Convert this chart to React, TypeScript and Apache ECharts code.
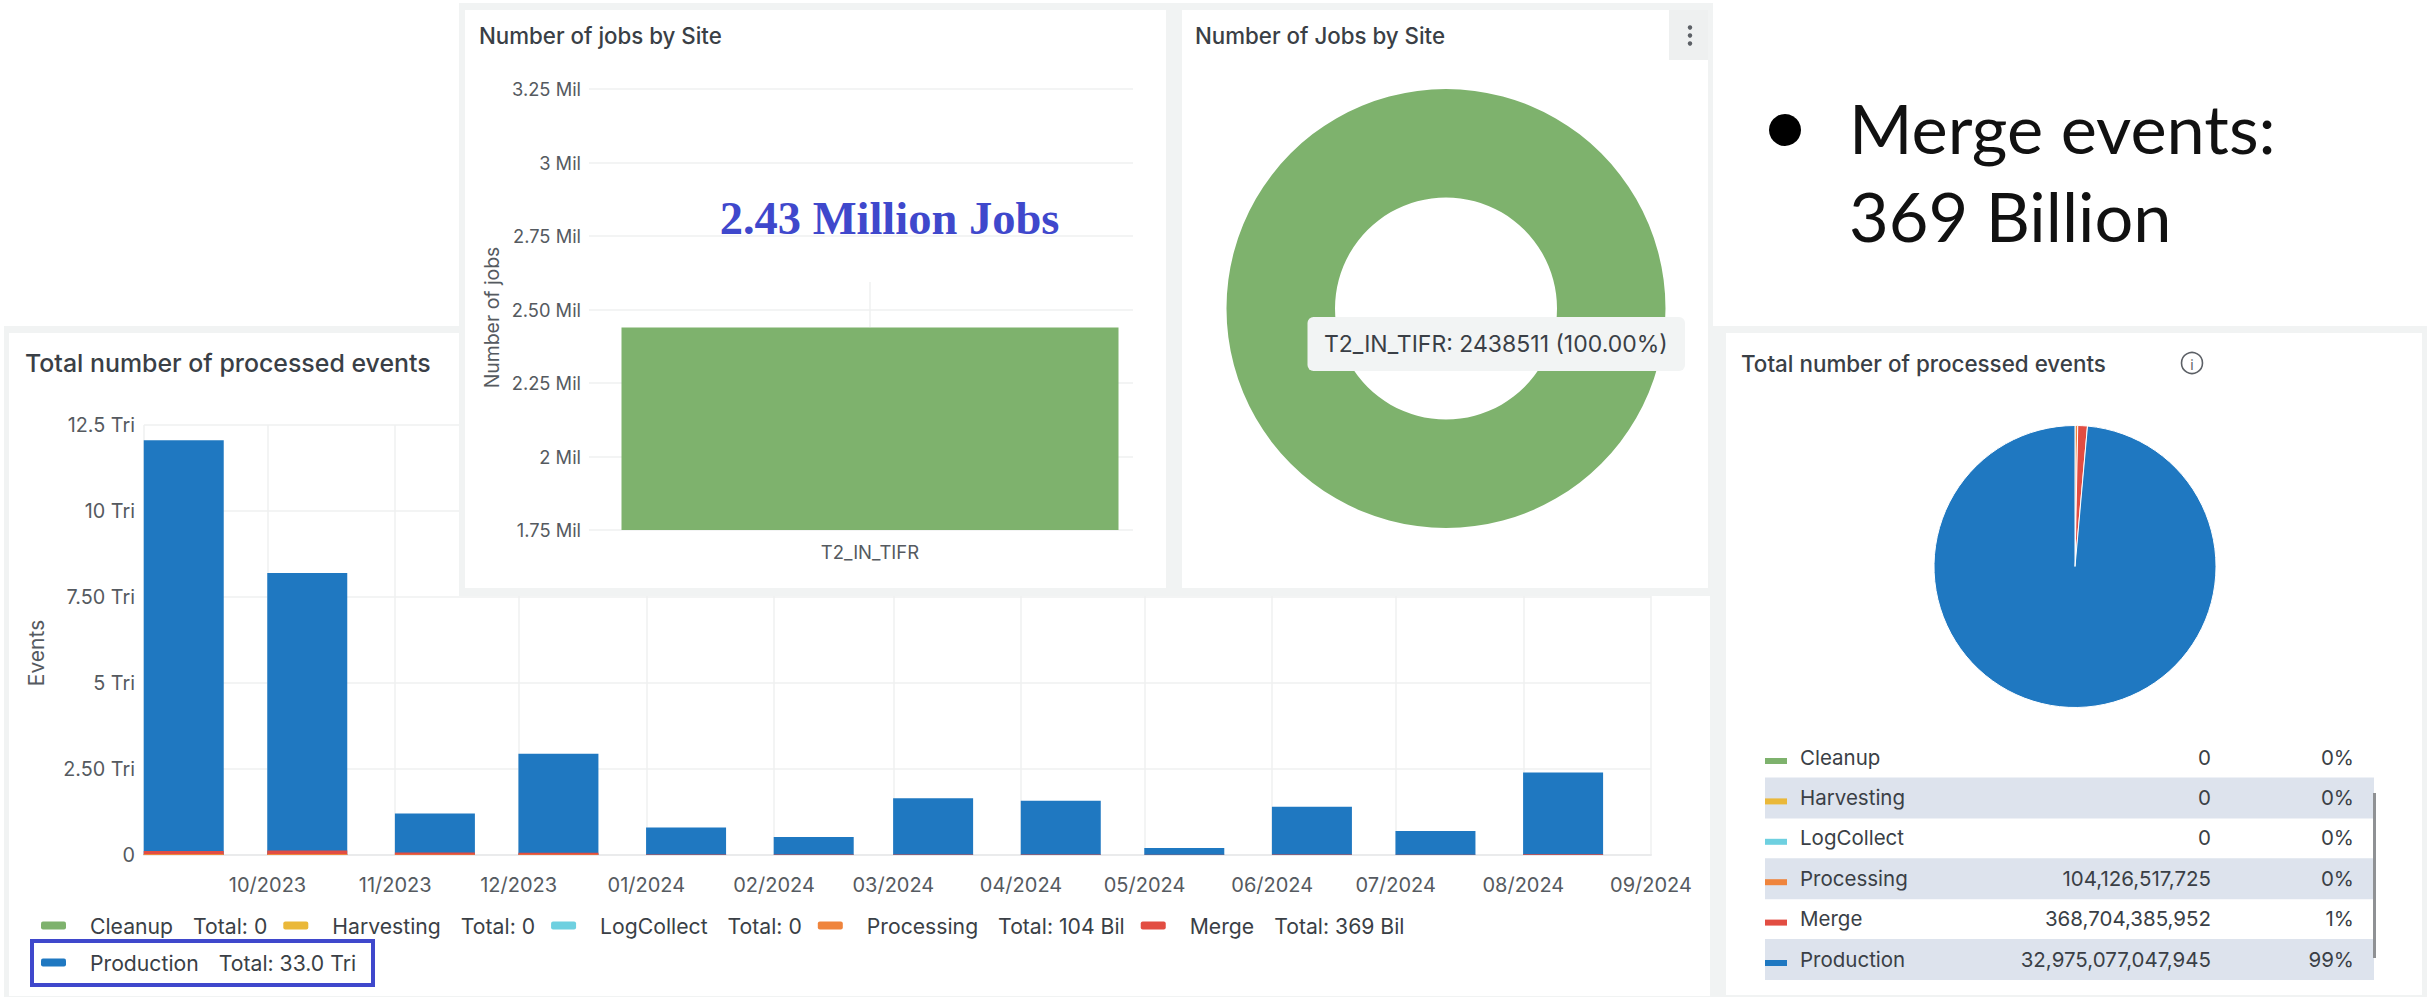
import React, { useEffect, useRef } from "react";
import * as echarts from "echarts";

// Monthly processed events, in trillions.
const monthStarts = [
  "2023-09-01", "2023-10-01", "2023-11-01", "2023-12-01", "2024-01-01", "2024-02-01",
  "2024-03-01", "2024-04-01", "2024-05-01", "2024-06-01", "2024-07-01", "2024-08-01",
];
const axisEndDate = "2024-09-01";
const cleanupEvents = [0, 0, 0, 0, 0, 0, 0, 0, 0, 0, 0, 0];
const harvestingEvents = [0, 0, 0, 0, 0, 0, 0, 0, 0, 0, 0, 0];
const logCollectEvents = [0, 0, 0, 0, 0, 0, 0, 0, 0, 0, 0, 0];
const processingEvents = [0.03, 0.03, 0.015, 0.012, 0.003, 0.002, 0.003, 0.002, 0.001, 0.002, 0.001, 0.003];
const mergeEvents = [0.085, 0.1, 0.06, 0.05, 0.015, 0.01, 0.012, 0.012, 0.003, 0.01, 0.006, 0.016];
const productionEvents = [11.945, 8.07, 1.135, 2.878, 0.782, 0.508, 1.635, 1.566, 0.196, 1.388, 0.693, 2.381];

const seriesNames = ["Cleanup", "Harvesting", "LogCollect", "Processing", "Merge", "Production"];
const seriesColors = ["#7EB26D", "#EAB839", "#6ED0E0", "#EF843C", "#E24D42", "#1F78C1"];
const legendTotals = ["0", "0", "0", "104 Bil", "369 Bil", "33.0 Tri"];
const tableValues = [0, 0, 0, 104126517725, 368704385952, 32975077047945];
const tableValueLabels = ["0", "0", "0", "104,126,517,725", "368,704,385,952", "32,975,077,047,945"];
const tablePercents = ["0%", "0%", "0%", "0%", "1%", "99%"];

const eventTickLabels = ["0", "2.50 Tri", "5 Tri", "7.50 Tri", "10 Tri", "12.5 Tri"];

// Jobs per site, in millions.
const siteNames = ["T2_IN_TIFR"];
const siteJobs = [2.438511];
const jobTickLabels = ["1.75 Mil", "2 Mil", "2.25 Mil", "2.50 Mil", "2.75 Mil", "3 Mil", "3.25 Mil"];
const siteJobCounts = [2438511];

const FONT = "Inter";
const INK = "#3a3f46";
const AXIS_INK = "#555a60";
const GRID_LINE = "#eff0f1";
const DAY_MS = 86400000;
const BAR_CENTRE_DAYS = 9.65;

const toMs = (day: string) => Date.parse(`${day}T00:00:00Z`);
const monthTicks = [...monthStarts, axisEndDate].map(toMs);

const text = (
  x: number, y: number, value: string, fontSize: number, fill: string, z: number,
  extra: Record<string, unknown> = {},
) => ({
  type: "text", x, y, z, silent: true,
  style: { text: value, fontSize, fontFamily: FONT, fill, textVerticalAlign: "middle", ...extra },
});
const box = (x: number, y: number, width: number, height: number, fill: string, z: number, r = 0) => ({
  type: "rect", z, silent: true, shape: { x, y, width, height, r }, style: { fill },
});

function buildOption() {
  const backdrop = "#f1f3f3";
  const tableRows = seriesNames.flatMap((name, i) => {
    const rowY = 757 + i * 40.4;
    const shaded = i % 2 === 1 ? [box(1765, rowY - 20, 609, 41, "#dde3ed", 1)] : [];
    return [
      ...shaded,
      box(1765, rowY + 1, 22, 6, seriesColors[i], 2),
      text(1800, rowY, name, 20.5, INK, 2),
      text(2211, rowY, tableValueLabels[i], 20.5, INK, 2, { textAlign: "right" }),
      text(2354, rowY, tablePercents[i], 20.5, INK, 2, { textAlign: "right" }),
    ];
  });

  const graphicElements = [
    // Lower dashboard row
    box(4, 326, 2423, 671, backdrop, -3),
    box(9, 333, 1701, 663, "#ffffff", -2),
    box(1726, 333, 696, 662, "#ffffff", -2),
    text(25, 363, "Total number of processed events", 24.9, INK, 2, { fontWeight: 500 }),
    text(1741, 363, "Total number of processed events", 22.4, INK, 2, { fontWeight: 500 }),
    { type: "circle", z: 2, silent: true, shape: { cx: 2192, cy: 363, r: 10.5 }, style: { fill: "none", stroke: "#5c6066", lineWidth: 1.6 } },
    text(2192, 364, "i", 14, "#5c6066", 2, { textAlign: "center" }),
    ...tableRows,
    box(2373, 793, 3, 165, "#8f9194", 3),
    // Highlight around the production total
    { type: "rect", z: 5, silent: true, shape: { x: 32, y: 941, width: 341, height: 44 }, style: { fill: "none", stroke: "#3f48cc", lineWidth: 4 } },

    // Upper dashboard row
    box(459, 3, 1254, 593, backdrop, 20),
    box(465, 10, 701, 578, "#ffffff", 20.5),
    box(1182, 10, 526, 578, "#ffffff", 20.5),
    text(479, 35, "Number of jobs by Site", 22.3, INK, 24, { fontWeight: 500 }),
    text(1195, 35, "Number of Jobs by Site", 22.3, INK, 24, { fontWeight: 500 }),
    box(1669, 10, 39, 50, "#eef0f0", 24),
    ...[27.5, 35.5, 43.5].map((cy) => ({
      type: "circle", z: 25, silent: true, shape: { cx: 1690, cy, r: 2.2 }, style: { fill: "#5c6066" },
    })),
    { type: "line", z: 21, silent: true, shape: { x1: 870, y1: 282, x2: 870, y2: 327 }, style: { stroke: GRID_LINE, lineWidth: 1.5 } },
    text(889.5, 218, "2.43 Million Jobs", 46.5, "#3f48cc", 30, {
      fontFamily: "Liberation Serif", fontWeight: "bold", textAlign: "center",
    }),
    box(1307.5, 317, 377.5, 54, "#f2f4f4", 30, 6),
    text(1324, 344, `${siteNames[0]}: ${siteJobCounts[0]} (100.00%)`, 23, INK, 31),

    // Slide bullet
    { type: "circle", z: 2, silent: true, shape: { cx: 1785, cy: 130, r: 16 }, style: { fill: "#000000" } },
    text(1849, 127, "Merge events:", 68.5, "#111111", 2, { fontFamily: "Lato" }),
    text(1849, 215, "369 Billion", 68.5, "#111111", 2, { fontFamily: "Lato" }),
  ];

  // A numeric x axis does not stack by date, so the columns are layered:
  // each series draws its running total, tallest at the back.
  const eventValues = [cleanupEvents, harvestingEvents, logCollectEvents, processingEvents, mergeEvents, productionEvents];
  const eventSeries = eventValues
    .map((values, i) => ({
      type: "bar",
      name: seriesNames[i],
      xAxisIndex: 0,
      yAxisIndex: 0,
      barWidth: 80,
      barGap: "-100%",
      itemStyle: { color: seriesColors[i] },
      emphasis: { disabled: true },
      data: values.map((_, m) => [
        toMs(monthStarts[m]) + BAR_CENTRE_DAYS * DAY_MS,
        eventValues.slice(0, i + 1).reduce((sum, row) => sum + row[m], 0),
      ]),
    }))
    .reverse();

  const legendRich = {
    n: { fontFamily: FONT, fontSize: 21.2, lineHeight: 18, color: INK, padding: [0, 0, 0, 19] },
    t: { fontFamily: FONT, fontSize: 21.2, lineHeight: 18, color: INK, padding: [0, 0, 0, 20] },
  };

  return {
    animation: false,
    useUTC: true,
    backgroundColor: "#ffffff",
    graphic: { elements: graphicElements },
    legend: {
      left: 41,
      top: 915,
      width: 1420,
      padding: 0,
      itemWidth: 25,
      itemHeight: 8,
      itemGap: 16,
      icon: "roundRect",
      selectedMode: false,
      data: seriesNames,
      formatter: (name: string) => `{n|${name}}{t|Total: ${legendTotals[seriesNames.indexOf(name)]}}`,
      textStyle: { rich: legendRich, fontSize: 21.2, lineHeight: 18 },
    },
    grid: [
      { left: 144, width: 1507, top: 425, height: 430 },
      { left: 607, width: 526, top: 89, height: 441 },
    ],
    xAxis: [
      {
        // Months are uneven, so the ticks are listed rather than spaced by an interval.
        type: "value",
        gridIndex: 0,
        min: monthTicks[0],
        max: monthTicks[monthTicks.length - 1],
        axisLine: { show: true, onZero: false, lineStyle: { color: "#eaebec", width: 2 } },
        axisTick: { show: false, customValues: monthTicks },
        axisLabel: {
          show: true,
          customValues: monthTicks.slice(1),
          hideOverlap: false,
          margin: 20,
          fontFamily: FONT,
          fontSize: 20,
          color: AXIS_INK,
          formatter: (value: number) => {
            const d = new Date(value);
            return `${String(d.getUTCMonth() + 1).padStart(2, "0")}/${d.getUTCFullYear()}`;
          },
        },
        splitLine: { show: true, lineStyle: { color: GRID_LINE, width: 1.5 } },
      },
      {
        type: "category",
        gridIndex: 1,
        data: siteNames,
        z: 21,
        axisLine: { show: false },
        axisTick: { show: false },
        axisLabel: { margin: 12, fontFamily: FONT, fontSize: 18.5, color: AXIS_INK },
        splitLine: { show: false },
      },
    ],
    yAxis: [
      {
        type: "value",
        gridIndex: 0,
        min: 0,
        max: 12.5,
        interval: 2.5,
        name: "Events",
        nameLocation: "middle",
        nameGap: 97,
        nameTextStyle: { fontFamily: FONT, fontSize: 21, color: AXIS_INK, padding: [0, 26, 0, 0] },
        axisLine: { show: false },
        axisTick: { show: false },
        axisLabel: {
          margin: 9,
          fontFamily: FONT,
          fontSize: 19.8,
          color: AXIS_INK,
          formatter: (value: number) => eventTickLabels[Math.round(value / 2.5)],
        },
        splitLine: { lineStyle: { color: GRID_LINE, width: 1.5 } },
      },
      {
        type: "value",
        gridIndex: 1,
        min: 1.75,
        max: 3.25,
        interval: 0.25,
        z: 21,
        name: "Number of jobs",
        nameLocation: "middle",
        nameGap: 106,
        nameTextStyle: { fontFamily: FONT, fontSize: 19.4, color: AXIS_INK, padding: [0, 16, 0, 0] },
        axisLine: { show: false },
        // Grid lines run a little past the plot on the left.
        axisTick: { show: true, length: 18, lineStyle: { color: GRID_LINE, width: 1.5 } },
        axisLabel: {
          margin: 26,
          fontFamily: FONT,
          fontSize: 18.3,
          color: AXIS_INK,
          formatter: (value: number) => jobTickLabels[Math.round((value - 1.75) / 0.25)],
        },
        splitLine: { lineStyle: { color: GRID_LINE, width: 1.5 } },
      },
    ],
    series: [
      ...eventSeries,
      {
        type: "bar",
        name: "Jobs by site",
        xAxisIndex: 1,
        yAxisIndex: 1,
        z: 22,
        barWidth: 497,
        itemStyle: { color: "#7EB26D" },
        emphasis: { disabled: true },
        data: siteJobs,
      },
      {
        type: "pie",
        name: "Jobs share",
        z: 22,
        center: [1446, 308.5],
        radius: [111, 219.5],
        silent: true,
        label: { show: false },
        labelLine: { show: false },
        itemStyle: { color: "#7EB26D" },
        data: siteNames.map((name, i) => ({ name, value: siteJobs[i] })),
      },
      {
        type: "pie",
        name: "Events share",
        center: [2075, 566.5],
        radius: [0, 141],
        silent: true,
        label: { show: false },
        labelLine: { show: false },
        itemStyle: { borderColor: "#ffffff", borderWidth: 1 },
        data: seriesNames.map((name, i) => ({
          name,
          value: tableValues[i],
          itemStyle: { color: seriesColors[i] },
        })),
      },
    ],
  };
}

export default function App() {
  const ref = useRef<HTMLDivElement>(null);
  useEffect(() => {
    const chart = echarts.init(ref.current!, undefined, { renderer: "svg" });
    chart.setOption(buildOption());
    return () => chart.dispose();
  }, []);
  return <div ref={ref} style={{ position: "fixed", left: 0, top: 0, width: 2427, height: 997 }} />;
}
